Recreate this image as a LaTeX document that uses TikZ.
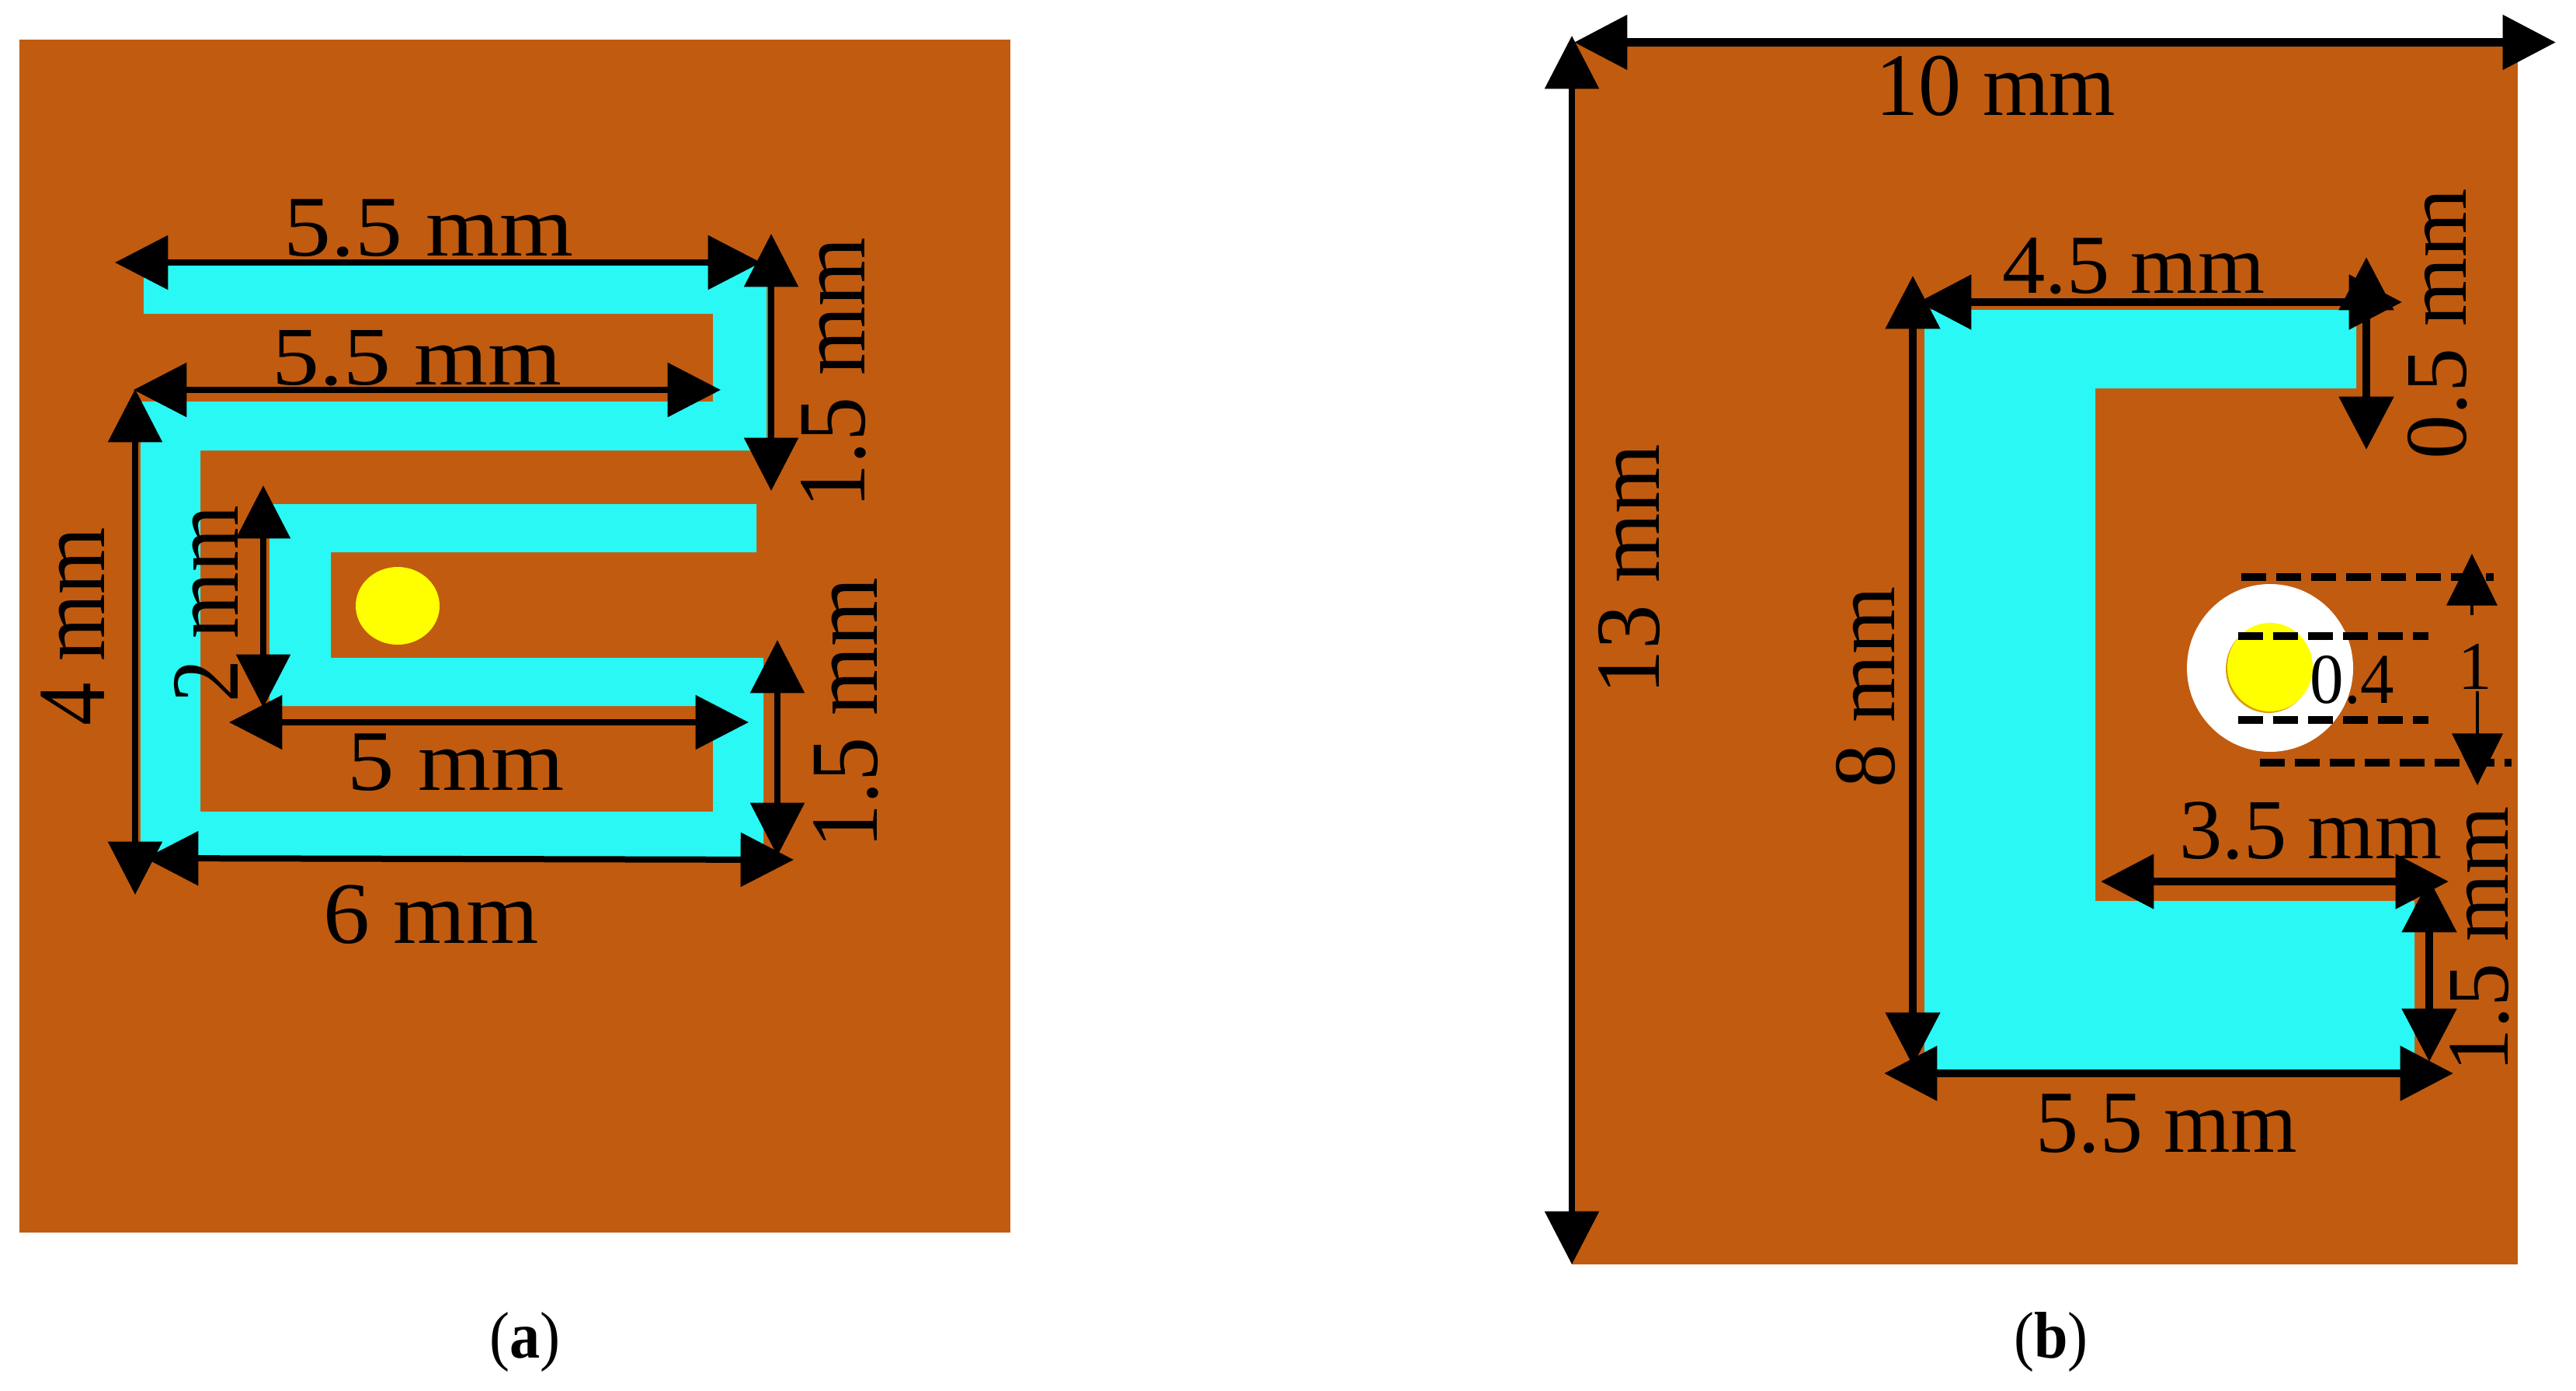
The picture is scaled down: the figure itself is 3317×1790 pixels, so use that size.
\documentclass[tikz,border=0pt]{standalone}
\usepackage{fontspec}
\usepackage{graphicx}
\setmainfont{Liberation Serif}
\usetikzlibrary{arrows.meta}
\definecolor{board}{HTML}{C15B10}
\definecolor{patch}{HTML}{2AF8F4}
\definecolor{feedpin}{HTML}{FFFF00}
\tikzset{
  x=0.3pt,y=-0.3pt,
  dimtip/.tip={Triangle[length=20.5pt,width=20.5pt]},
  dim/.style={line width=2.4pt,{dimtip}-{dimtip}},
  dimthick/.style={line width=3.2pt,{dimtip}-{dimtip}},
  dimup/.style={line width=1.2pt,-{Triangle[length=20pt,width=19.5pt]}},
  dashrow/.style={line width=3pt,dash pattern=on 9.5pt off 4pt},
  boardfill/.style={fill=board,draw=none},
  patchfill/.style={fill=patch,draw=none},
  lbl/.style={anchor=base,inner sep=0pt,font=\fontsize{30pt}{30pt}\selectfont},
  rlbl/.style={lbl,rotate=90},
  captext/.style={anchor=base,inner sep=0pt,font=\fontsize{25.5pt}{25.5pt}\selectfont}
}
\newcommand{\dimtext}[3]{\scalebox{#1}[#2]{#3}}
\begin{document}
\begin{tikzpicture}
\useasboundingbox (0,0) rectangle (3317,1790);
% panel (a)
\fill[boardfill] (25,51) rectangle (1301,1587);
\fill[patchfill] (185,342)--(987,342)--(987,580)--(258,580)--(258,1045)--(918,1045)--(918,909)--(347,909)--(347,649)--(974,649)--(974,711)--(426,711)--(426,847)--(983,847)--(983,1103)--(181,1103)--(181,517)--(918,517)--(918,404)--(185,404)--cycle;
\fill[feedpin] (512,780) ellipse [x radius=54,y radius=50];
\draw[dim] (148,338)--(980,338);
\draw[dim] (993,301)--(993,632);
\draw[dim] (172,502)--(928,502);
\draw[dim] (174,501)--(174,1152);
\draw[dim] (339,625)--(339,911);
\draw[dim] (295,930)--(964,930);
\draw[dim] (1001,824)--(1001,1102);
\draw[dim] (187,1105)--(1022,1107);
\node[lbl]  (a1) at (552,329)  {\dimtext{1.22}{1.11}{5.5 mm}};
\node[lbl]  (a2) at (537,495)  {\dimtext{1.22}{1.07}{5.5 mm}};
\node[lbl]  (a3) at (587,1017) {\dimtext{1.21}{1.11}{5 mm}};
\node[lbl]  (a4) at (555,1214) {\dimtext{1.2}{1.13}{6 mm}};
\node[rlbl] (a5) at (1113,480) {\dimtext{1.14}{1.24}{1.5 mm}};
\node[rlbl] (a6) at (134,807)  {\dimtext{1.11}{1.24}{4 mm}};
\node[rlbl] (a7) at (306,778)  {\dimtext{1.10}{1.24}{2 mm}};
\node[rlbl] (a8) at (1129,918) {\dimtext{1.14}{1.24}{1.5 mm}};
\node[captext] (capa) at (676,1748) {\scalebox{0.92}[1]{(\textbf{a})}};
% panel (b)
\fill[boardfill] (2024,54) rectangle (3242,1628);
\fill[patchfill] (2478,399)--(3034,399)--(3034,500)--(2698,500)--(2698,1160)--(3109,1160)--(3109,1378)--(2478,1378)--cycle;
\fill[white] (2923,860) ellipse [x radius=107,y radius=108];
\fill[board!60!feedpin] (2921,861) ellipse [x radius=55,y radius=57];
\fill[feedpin] (2923,859) ellipse [x radius=55,y radius=57];
\draw[dashrow] (2886,743)--(3211,743);
\draw[dashrow] (2882,818.5)--(3127,818.5);
\draw[dashrow] (2882,927)--(3127,927);
\draw[dashrow] (2910,982)--(3234,982);
\draw[dimthick] (2027,54.5)--(3291,54.5);
\draw[dim] (2024,46)--(2024,1628);
\draw[dimthick] (2470,389)--(3093,389);
\draw[dimthick] (3047,331)--(3047,579);
\draw[dim,line width=3pt] (2463,355)--(2463,1372);
\draw[dimthick] (2705,1135)--(3153,1135);
\draw[dimthick] (3128,1132)--(3128,1367);
\draw[dimthick] (2426,1382)--(3159,1382);
\draw[dimup] (3183,792)--(3183,713);
\draw[dimup] (3190,890)--(3190,1011);
\node[lbl]  (b1) at (2570,148)  {\dimtext{1.10}{1.15}{10 mm}};
\node[rlbl] (b2) at (2136,733)  {\dimtext{1.15}{1.18}{13 mm}};
\node[lbl]  (b3) at (2747,377)  {\dimtext{1.106}{1.08}{4.5 mm}};
\node[rlbl] (b4) at (3175,417)  {\dimtext{1.14}{1.13}{0.5 mm}};
\node[rlbl] (b5) at (2439,885)  {\dimtext{1.12}{1.13}{8 mm}};
\node[lbl]  (b6) at (3029,905)  {\dimtext{0.87}{0.92}{0.4}};
\node[lbl]  (b7) at (3187,887)  {\dimtext{0.87}{0.88}{1}};
\node[lbl]  (b8) at (2975,1105) {\dimtext{1.106}{1.1}{3.5 mm}};
\node[rlbl] (b9) at (3229,1209) {\dimtext{1.12}{1.13}{1.5 mm}};
\node[lbl]  (b10) at (2790,1483) {\dimtext{1.10}{1.14}{5.5 mm}};
\node[captext] (capb) at (2641,1748) {\scalebox{0.92}[1]{(\textbf{b})}};
\end{tikzpicture}
\end{document}
